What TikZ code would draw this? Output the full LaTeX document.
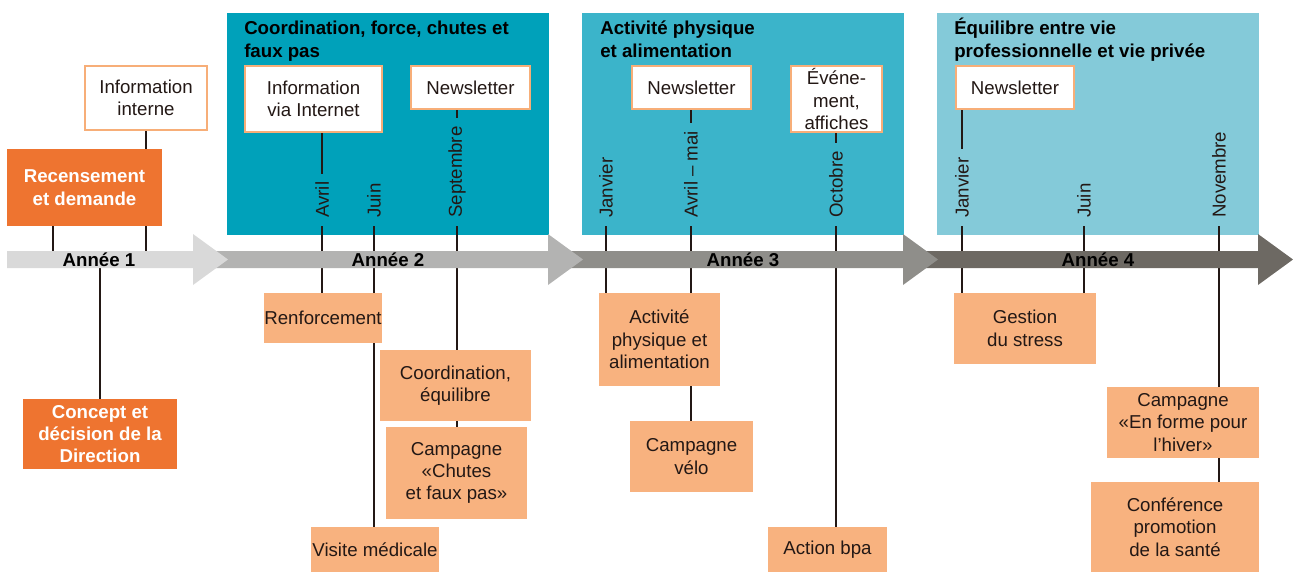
\documentclass[tikz,border=0pt]{standalone}
\usepackage{fontspec}
\setmainfont{Liberation Sans}
\usepackage{xcolor}
\usetikzlibrary{positioning}

\definecolor{tealA}{HTML}{00A1BA}
\definecolor{tealB}{HTML}{3BB4CA}
\definecolor{tealC}{HTML}{84CAD9}
\definecolor{orLight}{HTML}{F8B27F}
\definecolor{orDark}{HTML}{EE7430}
\definecolor{orLine}{HTML}{F7AE78}
\definecolor{ink}{HTML}{231815}
\definecolor{axA}{HTML}{D9D9D9}
\definecolor{axB}{HTML}{B3B3B2}
\definecolor{axC}{HTML}{8F8E8A}
\definecolor{axD}{HTML}{6D6963}

\pgfdeclarelayer{bg}
\pgfdeclarelayer{lines}
\pgfdeclarelayer{axis}
\pgfsetlayers{bg,lines,axis,main}

\newcommand{\txt}{\fontsize{14pt}{16.8pt}\selectfont}

\begin{document}
\begin{tikzpicture}[x=0.75pt,y=-0.75pt,
    every node/.style={font=\txt, text=ink, inner sep=0pt, align=center},
    wbox/.style={draw=orLine, line width=2pt, fill=white},
    lbox/.style={fill=orLight},
    dbox/.style={fill=orDark, text=white, font=\txt\bfseries},
    theme/.style={anchor=base west, align=left, text=black, font=\txt\bfseries},
    month/.style={rotate=90, anchor=west, inner xsep=6pt},
    year/.style={text=black, font=\txt\bfseries},
    tick/.style={ink, line width=2pt}]
    \useasboundingbox (0,0) rectangle (1293,572);

    % theme panels
    \begin{pgfonlayer}{bg}
        \fill[tealA] (227,13) rectangle (549,235);
        \fill[tealB] (582,13) rectangle (904,235);
        \fill[tealC] (937,13) rectangle (1259,235);
    \end{pgfonlayer}
    \node[theme] (th2) at (244,57) {Coordination, force, chutes et\\faux pas};
    \node[theme] (th3) at (600,57) {Activité physique\\et alimentation};
    \node[theme] (th4) at (954,57) {Équilibre entre vie\\professionnelle et vie privée};

    % time axis
    \begin{pgfonlayer}{axis}
        \foreach \xa/\tip/\col in {903/1293/axD, 548/938/axC, 193/583/axB, 7/228/axA}
            \fill[\col] (\xa,251) -- (\tip-35,251) -- (\tip-35,234) -- (\tip,259.5)
                -- (\tip-35,285) -- (\tip-35,268) -- (\xa,268) -- cycle;
    \end{pgfonlayer}
    \coordinate (ax) at (0,259.5);
    \node[year] (y1) at (99,259.5) {Année 1};
    \node[year] (y2) at (388,259.5) {Année 2};
    \node[year] (y3) at (743,259.5) {Année 3};
    \node[year] (y4) at (1098,259.5) {Année 4};

    % months
    \node[month] (avril) at (322,226) {Avril};
    \node[month] (juin) at (374,226) {Juin};
    \node[month] (sept) at (457,226) {Septembre};
    \node[month] (jan3) at (606,226) {Janvier};
    \node[month] (avmai) at (691,226) {Avril – mai};
    \node[month] (oct) at (836,226) {Octobre};
    \node[month] (jan4) at (962,226) {Janvier};
    \node[month] (juin4) at (1084,226) {Juin};
    \node[month] (nov) at (1219,226) {Novembre};

    % communication
    \node[wbox, minimum width=91.5pt, minimum height=48pt] (infint) at (146,98) {Information\\interne};
    \node[wbox, minimum width=102.75pt, minimum height=49.5pt] (infnet) at (313.5,99) {Information\\via Internet};
    \node[wbox, minimum width=89.25pt, minimum height=32.25pt] (news2) at (470.5,87.5) {Newsletter};
    \node[wbox, minimum width=89.25pt, minimum height=32.25pt] (news3) at (691.5,87.5) {Newsletter};
    \node[wbox, minimum width=68.25pt, minimum height=49.5pt] (event) at (836.5,99) {Événe-\\ment,\\affiches};
    \node[wbox, minimum width=88.5pt, minimum height=32.25pt] (news4) at (1015,87.5) {Newsletter};

    % project steps
    \node[dbox, minimum width=116.25pt, minimum height=57.75pt] (recens) at (84.5,187.5) {Recensement\\et demande};
    \node[dbox, minimum width=115.5pt, minimum height=52.5pt] (concept) at (100,434) {Concept et\\décision de la\\Direction};

    % actions
    \node[lbox, minimum width=88.5pt, minimum height=37.5pt] (renf) at (323,318) {Renforcement};
    \node[lbox, minimum width=113.25pt, minimum height=53.25pt] (coord) at (455.5,385.5) {Coordination,\\équilibre};
    \node[lbox, minimum width=105.75pt, minimum height=69pt] (chutes) at (456.5,473) {Campagne\\«Chutes\\et faux pas»};
    \node[lbox, minimum width=96pt, minimum height=33.75pt] (visite) at (375,549.5) {Visite médicale};
    \node[lbox, minimum width=90.75pt, minimum height=69.75pt] (activ) at (659.5,339.5) {Activité\\physique et\\alimentation};
    \node[lbox, minimum width=92.25pt, minimum height=53.25pt] (velo) at (691.5,456.5) {Campagne\\vélo};
    \node[lbox, minimum width=89.25pt, minimum height=33.75pt] (bpa) at (827.5,549.5) {Action bpa};
    \node[lbox, minimum width=106.5pt, minimum height=53.25pt] (stress) at (1025,328.5) {Gestion\\du stress};
    \node[lbox, minimum width=114pt, minimum height=53.25pt] (hiver) at (1183,422.5) {Campagne\\«En forme pour\\l’hiver»};
    \node[lbox, minimum width=126pt, minimum height=67.5pt] (confer) at (1175,527) {Conférence\\promotion\\de la santé};

    % ticks
    \begin{pgfonlayer}{lines}
        \coordinate (t1) at (53,259.5);
        \draw[tick] (recens.south -| t1) -- (t1);
        \draw[tick] (infint.south) -- (infint.south |- ax);
        \draw[tick] (concept.north) -- (concept.north |- ax);
        \draw[tick] (infnet.south -| avril.east) -- (avril.east);
        \draw[tick] (avril.west) -- (renf.north -| avril.west);
        \draw[tick] (juin.west) -- (visite.north -| juin.west);
        \draw[tick] (news2.south -| sept.east) -- (sept.east);
        \draw[tick] (sept.west) -- (chutes.north -| sept.west);
        \draw[tick] (jan3.west) -- (activ.north -| jan3.west);
        \draw[tick] (news3.south -| avmai.east) -- (avmai.east);
        \draw[tick] (avmai.west) -- (velo.north -| avmai.west);
        \draw[tick] (event.south -| oct.east) -- (oct.east);
        \draw[tick] (oct.west) -- (bpa.north -| oct.west);
        \draw[tick] (news4.south -| jan4.east) -- (jan4.east);
        \draw[tick] (jan4.west) -- (stress.north -| jan4.west);
        \draw[tick] (juin4.west) -- (stress.north -| juin4.west);
        \draw[tick] (nov.west) -- (confer.north -| nov.west);
    \end{pgfonlayer}
\end{tikzpicture}
\end{document}
